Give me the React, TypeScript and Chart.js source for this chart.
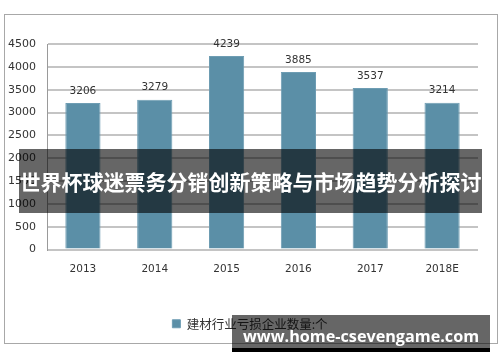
import React, { useEffect, useRef } from "react";
import { Chart, registerables } from "chart.js";

Chart.register(...registerables);

const categories = ["2013", "2014", "2015", "2016", "2017", "2018E"];
const lossCompanies = [3206, 3279, 4239, 3885, 3537, 3214];
const seriesLabel = "建材行业亏损企业数量:个";
const yMin = 0;
const yMax = 4500;
const yStep = 500;
const bannerTitle = "世界杯球迷票务分销创新策略与市场趋势分析探讨";
const watermarkText = "www.home-csevengame.com";

const framePlugin = {
  id: "frame",
  beforeDraw(chart: any) {
    const ctx = chart.ctx;
    ctx.save();
    ctx.fillStyle = "#ffffff";
    ctx.fillRect(0, 0, chart.width, chart.height);
    ctx.strokeStyle = "#a8a8a8";
    ctx.lineWidth = 1;
    ctx.strokeRect(4.5, 14.5, 493, 329);
    ctx.restore();
  },
};

const valueLabelPlugin = {
  id: "valueLabels",
  afterDatasetsDraw(chart: any) {
    const ctx = chart.ctx;
    const meta = chart.getDatasetMeta(0);
    const data = chart.data.datasets[0].data;
    ctx.save();
    ctx.font = "10.5px 'DejaVu Sans'";
    ctx.fillStyle = "#333333";
    ctx.textAlign = "center";
    ctx.textBaseline = "middle";
    meta.data.forEach((bar: any, i: number) => {
      ctx.fillText(String(data[i]), bar.x, bar.y - 12);
    });
    ctx.restore();
  },
};

export default function App() {
  const canvasRef = useRef<HTMLCanvasElement | null>(null);

  useEffect(() => {
    if (!canvasRef.current) return;
    const chart = new Chart(canvasRef.current, {
      type: "bar",
      data: {
        labels: categories,
        datasets: [
          {
            label: seriesLabel,
            data: lossCompanies,
            backgroundColor: "#5b8fa7",
            borderColor: "#6e9db3",
            borderWidth: 1,
            barPercentage: 0.49,
            categoryPercentage: 1,
            yAxisID: "y",
          },
        ],
      },
      options: {
        animation: false,
        responsive: false,
        maintainAspectRatio: false,
        layout: { padding: { top: 44, left: 0, right: 0, bottom: 22 } },
        scales: {
          x: {
            grid: { display: false },
            border: { display: false },
            ticks: {
              color: "#333333",
              font: { family: "'DejaVu Sans'", size: 10.5 },
              padding: 5,
              maxRotation: 0,
            },
            afterFit: (s: any) => {
              s.height = 58;
            },
          },
          y: {
            min: yMin,
            max: yMax,
            ticks: {
              stepSize: yStep,
              color: "#333333",
              font: { family: "'DejaVu Sans'", size: 11 },
              padding: 11,
              callback: (v: any) => String(v),
            },
            grid: { color: "#c4c4c4", lineWidth: 2, drawTicks: false },
            border: { color: "#9a9a9a", width: 1 },
            afterFit: (s: any) => {
              s.width = 47;
            },
          },
          yRight: {
            type: "linear",
            position: "right",
            min: yMin,
            max: yMax,
            grid: { display: false, drawOnChartArea: false, drawTicks: false },
            border: { display: false },
            ticks: { display: false },
            afterFit: (s: any) => {
              s.width = 22;
            },
          },
        },
        plugins: {
          legend: {
            position: "bottom",
            labels: {
              boxWidth: 8,
              boxHeight: 8,
              padding: 10,
              color: "#333333",
              font: { family: "'Noto Sans CJK SC'", size: 12.5 },
            },
          },
          tooltip: { enabled: false },
        },
      },
      plugins: [framePlugin, valueLabelPlugin],
    });
    return () => chart.destroy();
  }, []);

  return (
    <div style={{ position: "fixed", left: 0, top: 0, width: 500, height: 362, background: "#fff" }}>
      <canvas ref={canvasRef} width={500} height={362} style={{ display: "block", width: 500, height: 362 }} />
      <div
        style={{
          position: "absolute",
          left: 19,
          top: 149,
          width: 463,
          height: 64,
          background: "rgba(0,0,0,0.6)",
          color: "#ffffff",
          fontFamily: "'Noto Sans CJK SC'",
          fontWeight: 700,
          fontSize: 21,
          display: "flex",
          alignItems: "center",
          justifyContent: "center",
          whiteSpace: "nowrap",
        }}
      >
        {bannerTitle}
      </div>
      <div
        style={{
          position: "absolute",
          left: 232,
          top: 315,
          width: 258,
          height: 33,
          background: "rgba(0,0,0,0.6)",
        }}
      />
      <div
        style={{
          position: "absolute",
          left: 232,
          top: 348,
          width: 258,
          height: 4,
          background: "#000000",
        }}
      />
      <div
        style={{
          position: "absolute",
          left: 243,
          top: 324,
          height: 24,
          lineHeight: "24px",
          color: "#ffffff",
          fontFamily: "'Open Sans'",
          fontWeight: 700,
          fontSize: 16.2,
          whiteSpace: "nowrap",
        }}
      >
        {watermarkText}
      </div>
    </div>
  );
}
